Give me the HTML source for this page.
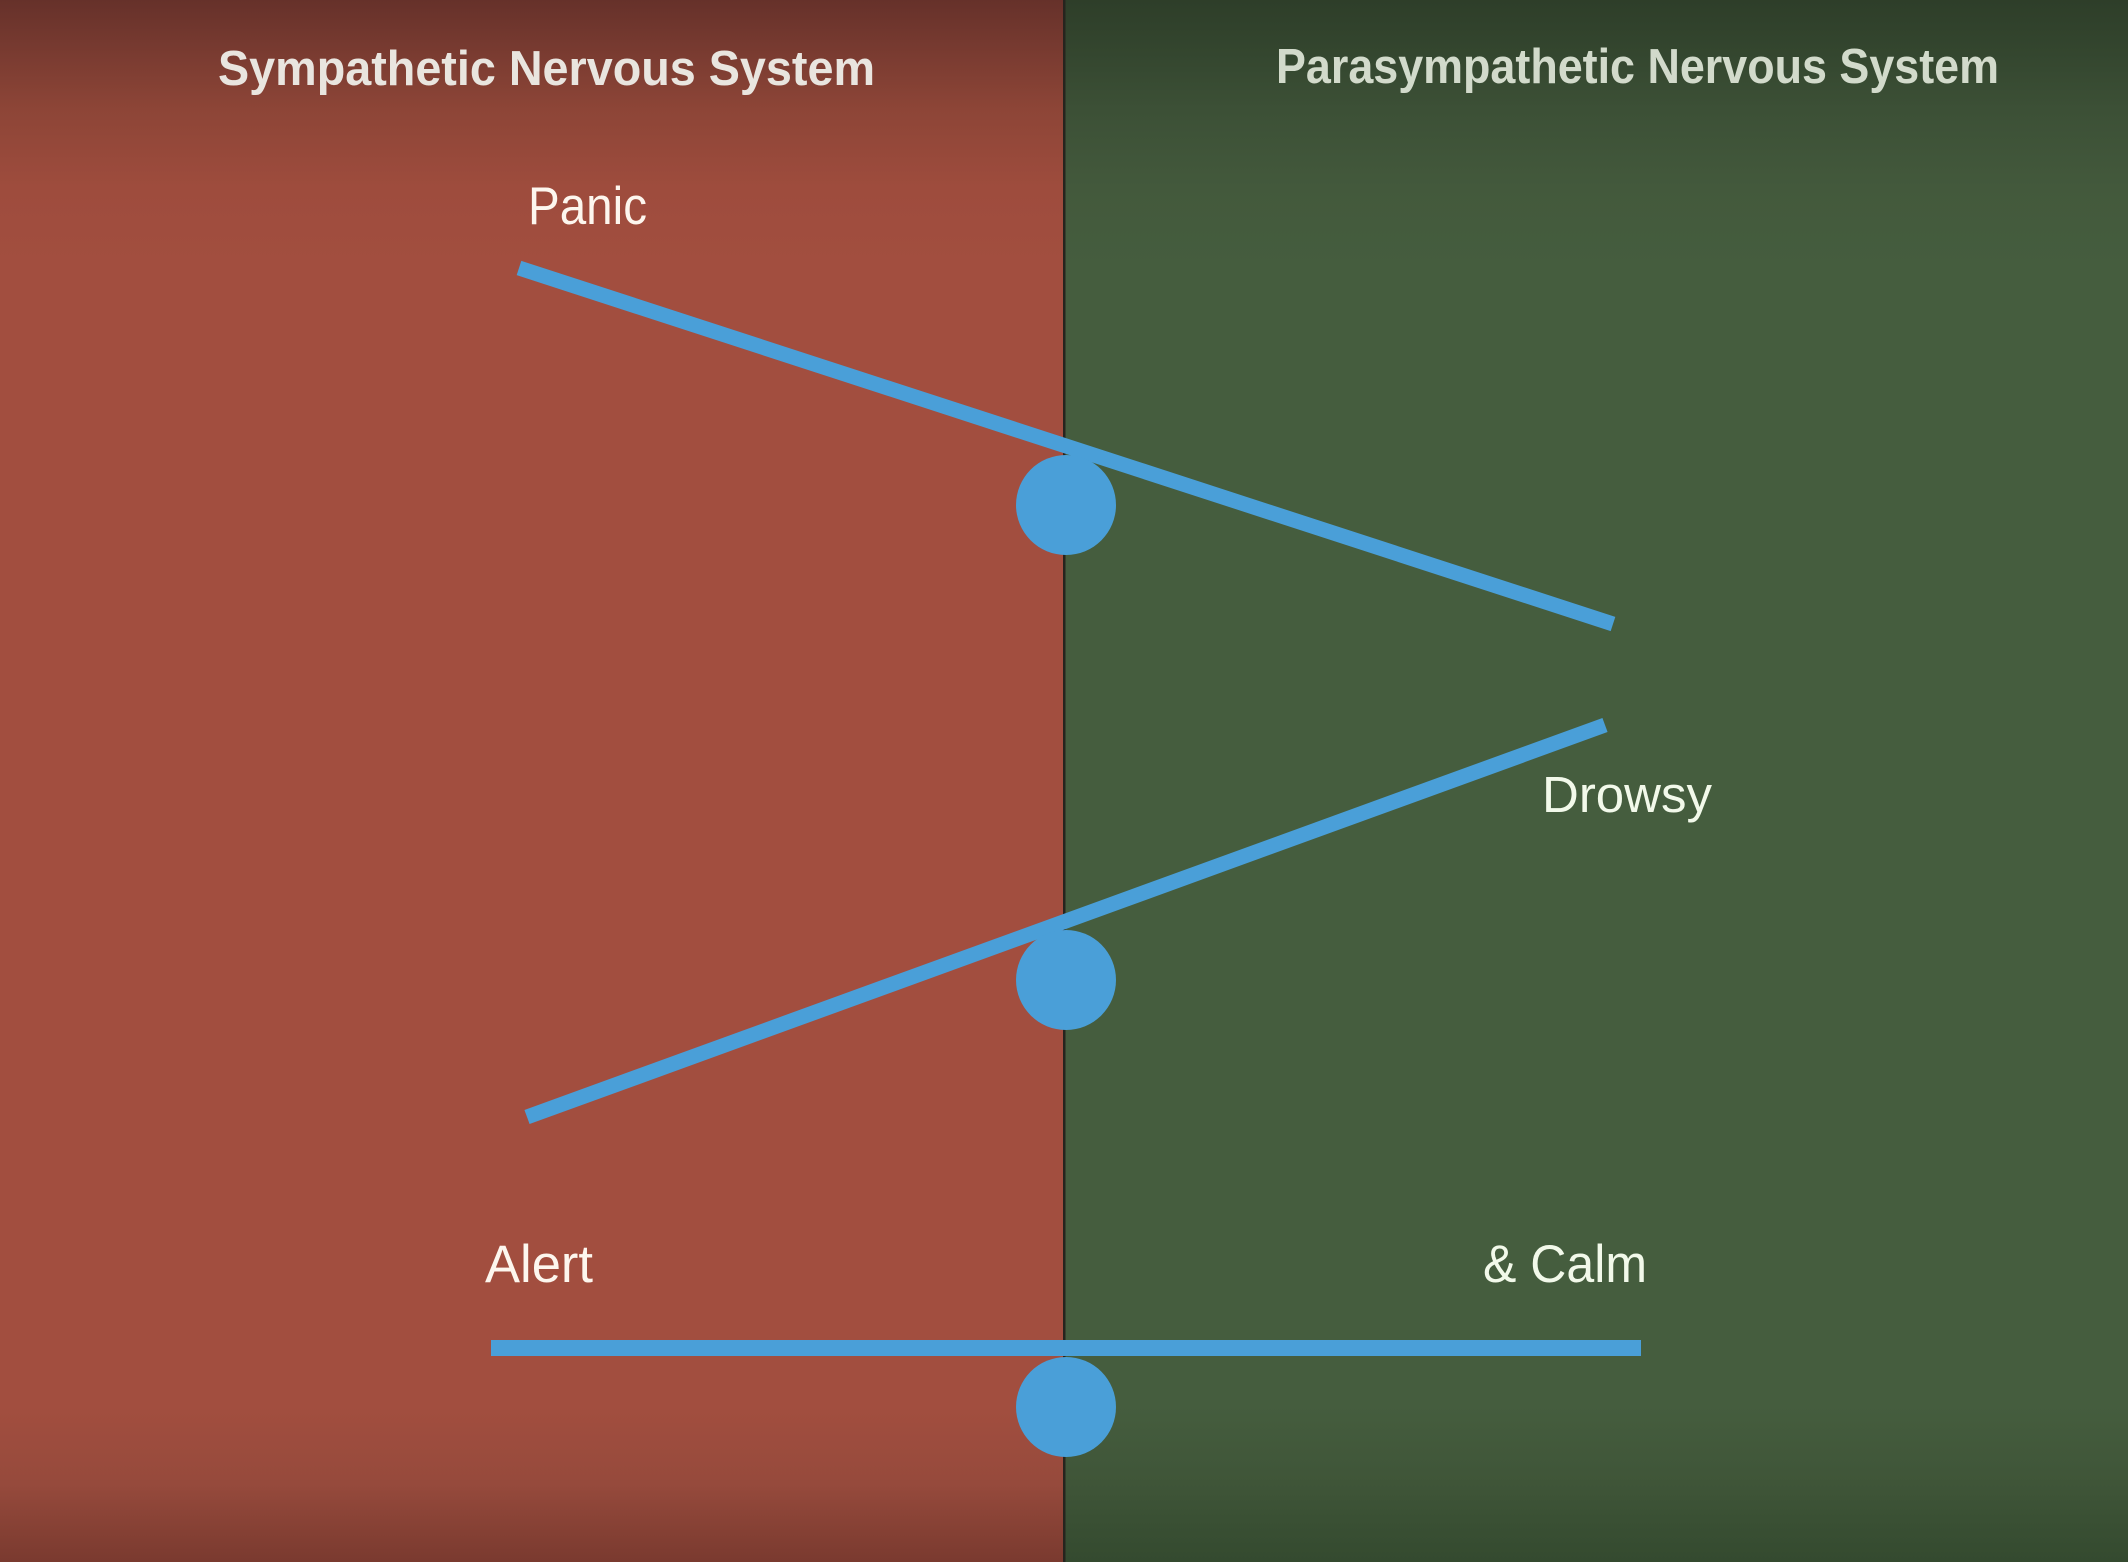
<!DOCTYPE html>
<html>
<head>
<meta charset="utf-8">
<style>
html,body{margin:0;padding:0;width:2128px;height:1562px;overflow:hidden;background:#455d3e;}
svg{display:block;}
</style>
</head>
<body>
<svg width="2128" height="1562" viewBox="0 0 2128 1562" xmlns="http://www.w3.org/2000/svg">
  <defs>
    <linearGradient id="redg" x1="0" y1="0" x2="0" y2="1562" gradientUnits="userSpaceOnUse">
      <stop offset="0" stop-color="#66312a"/>
      <stop offset="0.03" stop-color="#773a30"/>
      <stop offset="0.07" stop-color="#8d4537"/>
      <stop offset="0.12" stop-color="#9e4c3d"/>
      <stop offset="0.17" stop-color="#a24e3f"/>
      <stop offset="0.9" stop-color="#a24e3f"/>
      <stop offset="0.95" stop-color="#964a3c"/>
      <stop offset="1" stop-color="#7a3a2f"/>
    </linearGradient>
    <linearGradient id="greeng" x1="0" y1="0" x2="0" y2="1562" gradientUnits="userSpaceOnUse">
      <stop offset="0" stop-color="#2e3e29"/>
      <stop offset="0.03" stop-color="#33452e"/>
      <stop offset="0.07" stop-color="#3c5036"/>
      <stop offset="0.12" stop-color="#43593c"/>
      <stop offset="0.17" stop-color="#455d3e"/>
      <stop offset="0.9" stop-color="#455d3e"/>
      <stop offset="0.95" stop-color="#3f5538"/>
      <stop offset="1" stop-color="#344a2f"/>
    </linearGradient>
  </defs>

  <rect x="0" y="0" width="1064" height="1562" fill="url(#redg)"/>
  <rect x="1064" y="0" width="1064" height="1562" fill="url(#greeng)"/>
  <rect x="1063" y="0" width="2.5" height="1562" fill="#26241e"/>

  <!-- headings -->
  <text x="218" y="85" font-family="Liberation Sans, sans-serif" font-weight="bold" font-size="49" fill="#e9e5df" textLength="657" lengthAdjust="spacingAndGlyphs">Sympathetic Nervous System</text>
  <text x="1276" y="83" font-family="Liberation Sans, sans-serif" font-weight="bold" font-size="49" fill="#d2dacb" textLength="723" lengthAdjust="spacingAndGlyphs">Parasympathetic Nervous System</text>

  <!-- labels -->
  <text x="528" y="224" font-family="Liberation Sans, sans-serif" font-size="53" fill="#fdf6ee" textLength="119" lengthAdjust="spacingAndGlyphs">Panic</text>
  <text x="1542" y="812" font-family="Liberation Sans, sans-serif" font-size="51" fill="#f2f9ea" textLength="170" lengthAdjust="spacingAndGlyphs">Drowsy</text>
  <text x="485" y="1282" font-family="Liberation Sans, sans-serif" font-size="53" fill="#fdf6ee" textLength="108" lengthAdjust="spacingAndGlyphs">Alert</text>
  <text x="1483" y="1282" font-family="Liberation Sans, sans-serif" font-size="53" fill="#f2f9ea" textLength="164" lengthAdjust="spacingAndGlyphs">&amp; Calm</text>

  <!-- seesaw 1 -->
  <line x1="519" y1="268" x2="1613" y2="624" stroke="#4a9fd8" stroke-width="15"/>
  <circle cx="1066" cy="505" r="50" fill="#4a9fd8"/>

  <!-- seesaw 2 -->
  <line x1="527" y1="1117" x2="1605" y2="725" stroke="#4a9fd8" stroke-width="15"/>
  <circle cx="1066" cy="980" r="50" fill="#4a9fd8"/>

  <!-- seesaw 3 -->
  <line x1="491" y1="1348" x2="1641" y2="1348" stroke="#4a9fd8" stroke-width="16"/>
  <circle cx="1066" cy="1407" r="50" fill="#4a9fd8"/>
</svg>
</body>
</html>
